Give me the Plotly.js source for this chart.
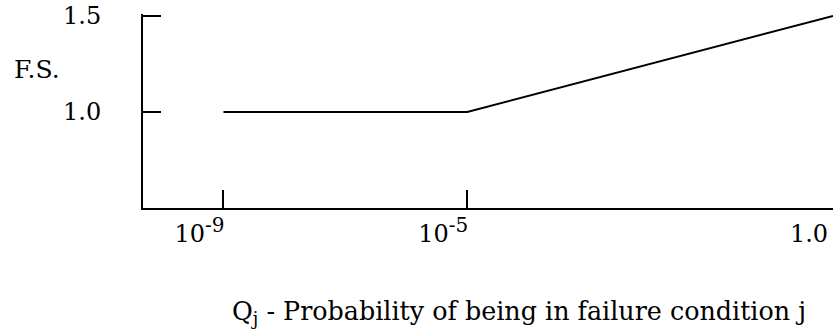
<!DOCTYPE html>
<html>
<head>
<meta charset="utf-8">
<script src="https://cdn.plot.ly/plotly-3.0.1.min.js"></script>
<style>html,body{margin:0;padding:0;background:#fff;}#chart{width:833px;height:335px;}</style>
</head>
<body>
<div id="chart"></div>
<script>
// Schematic (not to scale) axis positions for Q_j
const qPos = [0, 4, 10];
const qLabels = ['10<sup><span style="font-size:20px">-9</span></sup>', '10<sup><span style="font-size:20px">-5</span></sup>', '1.0'];
const qTickPos = [0, 4];          // positions that carry a tick mark
const fsValues = [1.0, 1.0, 1.5]; // F.S. at each Q_j
const fsTicks = [1.0, 1.5];
const fsTickText = ['1.0', '1.5'];

const font = "'DejaVu Serif', serif";

const trace = {
  x: qPos, y: fsValues, type: 'scatter', mode: 'lines',
  line: {color: '#000', width: 2}, hoverinfo: 'skip', cliponaxis: false
};

const layout = {
  width: 833, height: 335,
  margin: {l: 143, r: 0, t: 14, b: 127},
  paper_bgcolor: '#fff', plot_bgcolor: '#fff',
  showlegend: false,
  font: {family: font, size: 24, color: '#000'},
  xaxis: {
    range: [-1.32, 10], showgrid: false, zeroline: false,
    showline: true, linecolor: '#000', linewidth: 2,
    tickmode: 'array', tickvals: qPos, ticktext: qLabels,
    ticks: '', ticklabelshift: -24, ticklabelstandoff: 3, ticklabeloverflow: 'allow',
    minor: {tickmode: 'array', tickvals: qTickPos, ticks: 'inside', ticklen: 18, tickwidth: 2, tickcolor: '#000', showgrid: false},
    tickfont: {family: font, size: 24, color: '#000'},
    fixedrange: true
  },
  yaxis: {
    range: [0.5, 1.51], showgrid: false, zeroline: false,
    showline: true, linecolor: '#000', linewidth: 2,
    tickmode: 'array', tickvals: fsTicks, ticktext: fsTickText,
    ticks: 'inside', ticklen: 18, tickwidth: 2, tickcolor: '#000',
    ticklabelstandoff: 35, ticklabeloverflow: 'allow',
    tickfont: {family: font, size: 24, color: '#000'},
    fixedrange: true
  },
  annotations: [
    {text: 'F.S.', xref: 'paper', yref: 'paper', x: -0.154, y: 0.715,
     xanchor: 'center', yanchor: 'middle', showarrow: false,
     font: {family: font, size: 25, color: '#000'}},
    {text: 'Q<sub>j</sub> - Probability of being in failure condition j',
     xref: 'paper', yref: 'paper', x: 0.545, y: -0.539,
     xanchor: 'center', yanchor: 'middle', showarrow: false,
     font: {family: font, size: 25.4, color: '#000'}}
  ]
};

Plotly.newPlot('chart', [trace], layout, {staticPlot: true, displayModeBar: false});
</script>
</body>
</html>
